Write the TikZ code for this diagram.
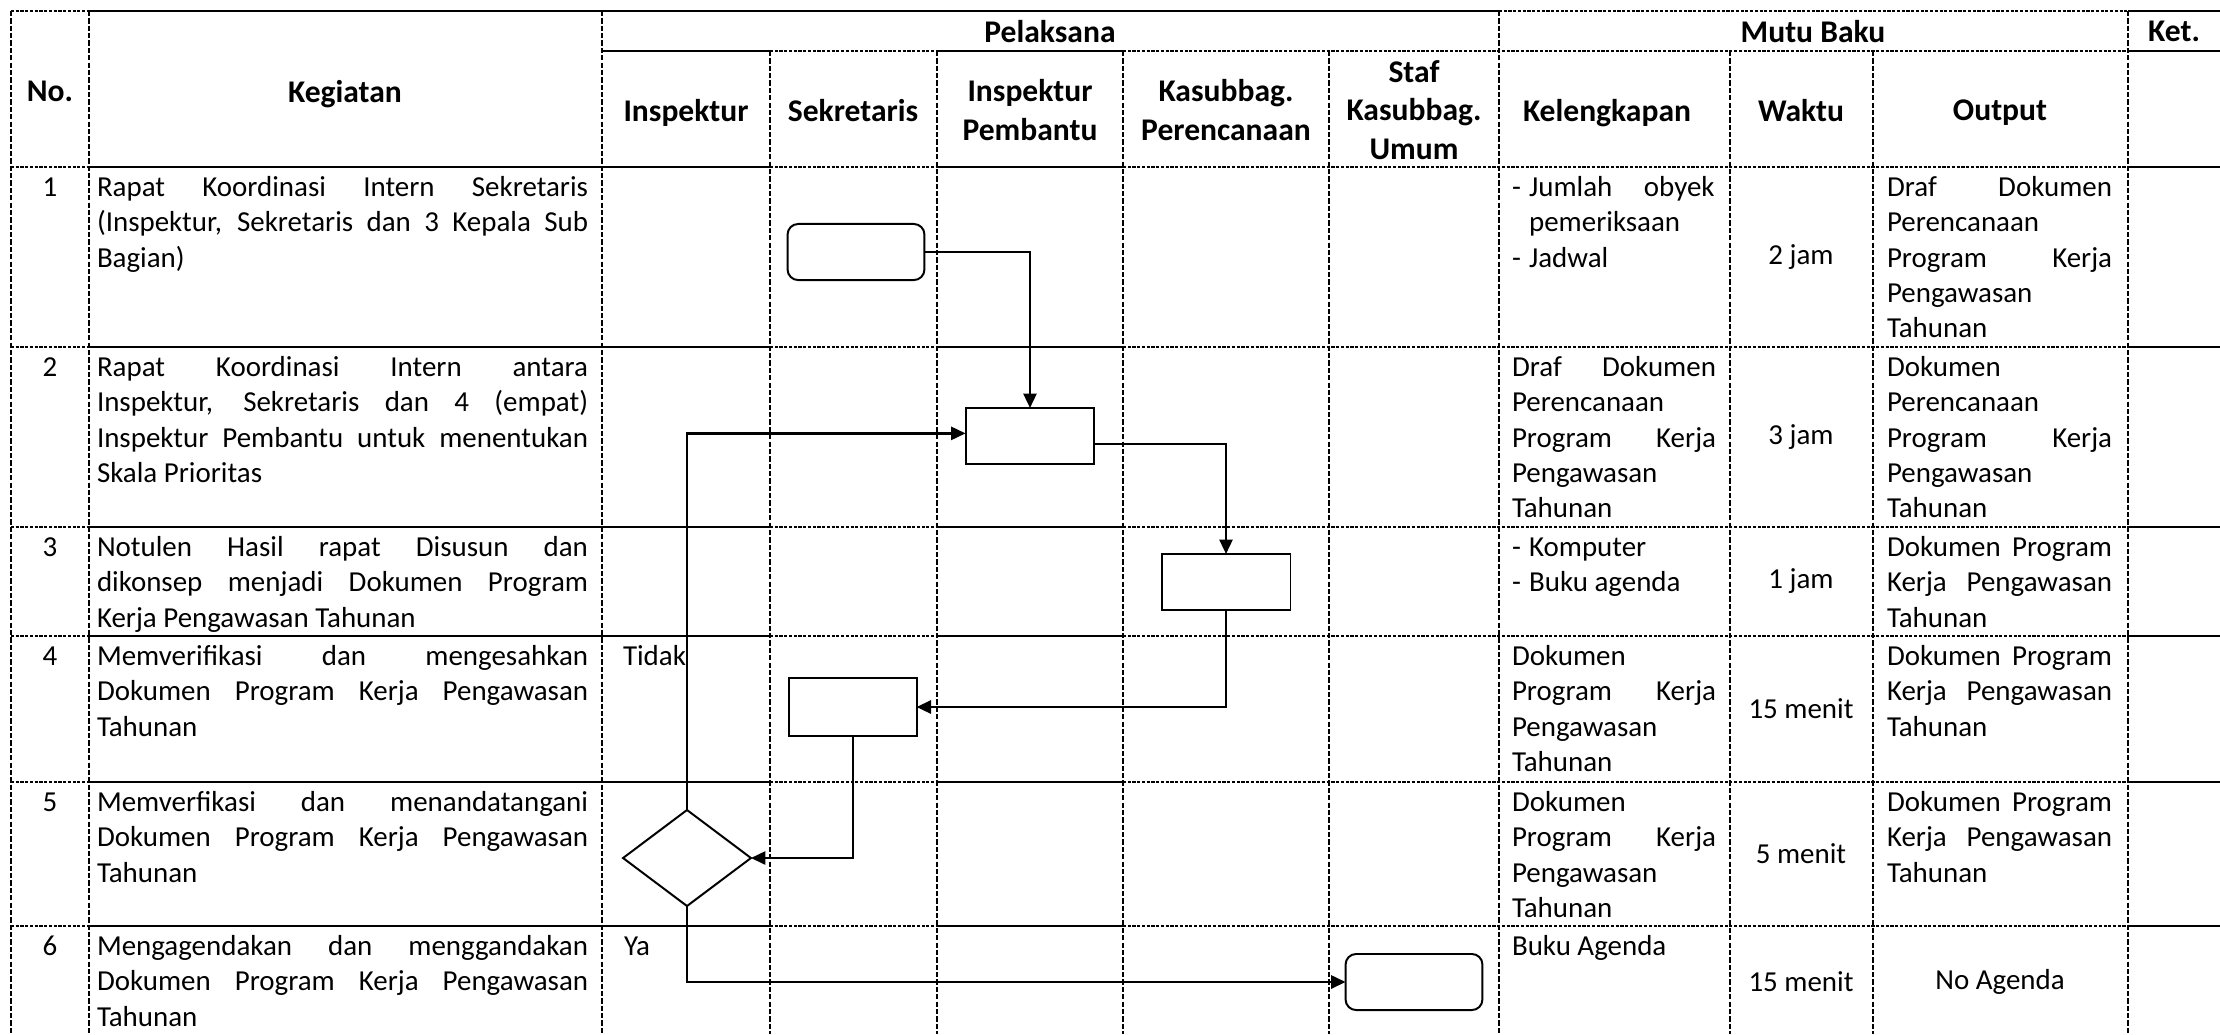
\documentclass[tikz,border=0pt]{standalone}
\usepackage{fontspec}
\setmainfont{Carlito}
\usepackage{tikz}
\usetikzlibrary{arrows,arrows.meta}
\usetikzlibrary{shapes,positioning,calc}

\newcommand{\cellfont}{\fontsize{11}{13.4}\selectfont}
\newcommand{\headfont}{\fontsize{12}{14.6}\selectfont\bfseries}
\newcommand{\dashlist}[1]{\begin{tabular}[t]{@{}p{6.5pt}@{}p{70.5pt}@{}}#1\end{tabular}}
\hyphenpenalty=10000
\exhyphenpenalty=10000
\tolerance=9999

\begin{document}
\begin{tikzpicture}[x=0.38pt, y=-0.38pt,
	every node/.style={font=\cellfont, inner sep=0pt, outer sep=0pt},
	gridsolid/.style={line width=0.75pt},
	griddot/.style={line width=0.5pt, dash pattern=on 1.2pt off 0.6pt},
	griddash/.style={line width=0.55pt, dash pattern=on 2pt off 0.8pt},
	cell/.style={anchor=north west, align=justify, execute at begin node=\strut},
	kegcell/.style={cell, text width=186.6pt},
	lkpcell/.style={cell, text width=77.5pt},
	outcell/.style={cell, text width=85.5pt},
	head/.style={font=\headfont, align=center, text depth=0pt},
	proc/.style={draw, line width=0.75pt, minimum width=49pt, minimum height=21.3pt},
	term/.style={proc, rounded corners=4pt, minimum width=52pt},
	decision/.style={draw, diamond, line width=0.75pt, aspect=1.33,
		minimum width=48.6pt, minimum height=36.5pt},
	flow/.style={-{Triangle[length=5.5pt,width=5pt]}, line width=0.9pt}]
\useasboundingbox (0,0) rectangle (2220,1034);

% Horizontal rules of the table: the cells of Word keep their own border,
% so some pieces of a rule are solid and the others dotted.
\draw[griddot] (11,11) -- (89,11);
\draw[gridsolid] (89,11) -- (1499,11);
\draw[griddot] (1499,11) -- (2128,11);
\draw[gridsolid] (2128,11) -- (2220,11);
\draw[gridsolid] (602,51) -- (770,51);
\draw[griddot] (770,51) -- (937,51);
\draw[gridsolid] (937,51) -- (1123,51);
\draw[griddot] (1123,51) -- (2128,51);
\draw[gridsolid] (2128,51) -- (2220,51);
\foreach \y in {167,347,527,636,782,926} {
	\draw[griddot] (11,\y) -- (89,\y);
	\draw[gridsolid] (89,\y) -- (770,\y);
	\draw[griddot] (770,\y) -- (937,\y);
	\draw[gridsolid] (937,\y) -- (1123,\y);
	\draw[griddot] (1123,\y) -- (2128,\y);
	\draw[gridsolid] (2128,\y) -- (2220,\y);
}

% Vertical rules, the inner ones start below the group headers
\foreach \x in {11,89,602,1499,2128}
	\draw[griddash] (\x,11) -- (\x,1034);
\foreach \x in {770,937,1123,1329,1730,1873}
	\draw[griddash] (\x,51) -- (\x,1034);

% Column headers
\node[head] (hno) at (50,91) {No.};
\node[head] (hkeg) at (345,91) {Kegiatan};
\node[head] (hpel) at (1050,31) {Pelaksana};
\node[head] (hmutu) at (1813,31) {Mutu Baku};
\node[head] (hket) at (2174,31) {Ket.};
\foreach \x/\name/\text in {686/hinsp/Inspektur, 853/hsek/Sekretaris,
		1030/hirban/{Inspektur\\Pembantu}, 1226/hkasren/{Kasubbag.\\Perencanaan},
		1414/hstaf/{Staf\\Kasubbag.\\Umum}, 1607/hleng/Kelengkapan,
		1801/hwaktu/Waktu, 2000/hout/Output}
	\node[head] (\name) at (\x,110) {\text};

% Number and activity of every step
\foreach \n/\y/\text in {
		1/167/{Rapat Koordinasi Intern Sekretaris\linebreak (Inspektur, Sekretaris dan 3 Kepala Sub\linebreak Bagian)},
		2/347/{Rapat Koordinasi Intern antara\linebreak Inspektur, Sekretaris dan 4 (empat)\linebreak Inspektur Pembantu untuk menentukan\linebreak Skala Prioritas},
		3/527/{Notulen Hasil rapat Disusun dan\linebreak dikonsep menjadi Dokumen Program\linebreak Kerja Pengawasan Tahunan},
		4/636/{Memverifikasi dan mengesahkan\linebreak Dokumen Program Kerja Pengawasan\linebreak Tahunan},
		5/782/{Memverfikasi dan menandatangani\linebreak Dokumen Program Kerja Pengawasan\linebreak Tahunan},
		6/926/{Mengagendakan dan menggandakan\linebreak Dokumen Program Kerja Pengawasan\linebreak Tahunan}} {
	\node[cell, anchor=north, align=center] (no\n) at (50,\y+5) {\n};
	\node[kegcell] (keg\n) at (97,\y+5) {\text};
}

% Mutu baku: kelengkapan, waktu and output
\node[lkpcell] (leng1) at (1512,172) {\dashlist{-&Jumlah obyek\linebreak pemeriksaan\\ -&Jadwal}};
\node[lkpcell] (leng2) at (1512,352) {Draf Dokumen\linebreak Perencanaan\newline Program Kerja\linebreak Pengawasan\newline Tahunan};
\node[lkpcell] (leng3) at (1512,532) {\dashlist{-&Komputer\\ -&Buku agenda}};
\node[lkpcell] (leng4) at (1512,641) {Dokumen\newline Program Kerja\linebreak Pengawasan\newline Tahunan};
\node[lkpcell] (leng5) at (1512,787) {Dokumen\newline Program Kerja\linebreak Pengawasan\newline Tahunan};
\node[lkpcell] (leng6) at (1512,931) {Buku Agenda};

\foreach \n/\y/\text in {1/257/2 jam, 2/437/3 jam, 3/581/1 jam,
		4/709/15 menit, 5/854/5 menit, 6/982/15 menit}
	\node (waktu\n) at (1801,\y) {\text};

\node[outcell] (out1) at (1887,172) {Draf Dokumen\linebreak Perencanaan\newline Program Kerja\linebreak Pengawasan\newline Tahunan};
\node[outcell] (out2) at (1887,352) {Dokumen\newline Perencanaan\newline Program Kerja\linebreak Pengawasan\newline Tahunan};
\node[outcell] (out3) at (1887,532) {Dokumen Program\linebreak Kerja Pengawasan\linebreak Tahunan};
\node[outcell] (out4) at (1887,641) {Dokumen Program\linebreak Kerja Pengawasan\linebreak Tahunan};
\node[outcell] (out5) at (1887,787) {Dokumen Program\linebreak Kerja Pengawasan\linebreak Tahunan};
\node (out6) at (2000,982) {No Agenda};

% Flow of the procedure through the lanes
\node[term] (r1) at (856,252) {};
\node[proc] (r2) at (1030,436) {};
\node[proc] (r3) at (1226,582) {};
\node[proc, minimum width=48.3pt, minimum height=22pt] (r4) at (853,707) {};
\node[decision] (dec) at (687,858) {};
\node[term] (r5) at (1414,982) {};

\draw[flow] (r1.east) -| (r2.north);
\draw[flow] ([yshift=-3pt]r2.east) -| (r3.north);
\draw[flow] (r3.south) |- (r4.east);
\draw[flow] (r4.south) |- (dec.east);
\draw[flow] (dec.north) |- ([yshift=1pt]r2.west);
\draw[flow] (dec.south) |- (r5.west);

\node[cell] (tidak) at (623,641) {Tidak};
\node[cell] (ya) at (624,931) {Ya};
\end{tikzpicture}
\end{document}
